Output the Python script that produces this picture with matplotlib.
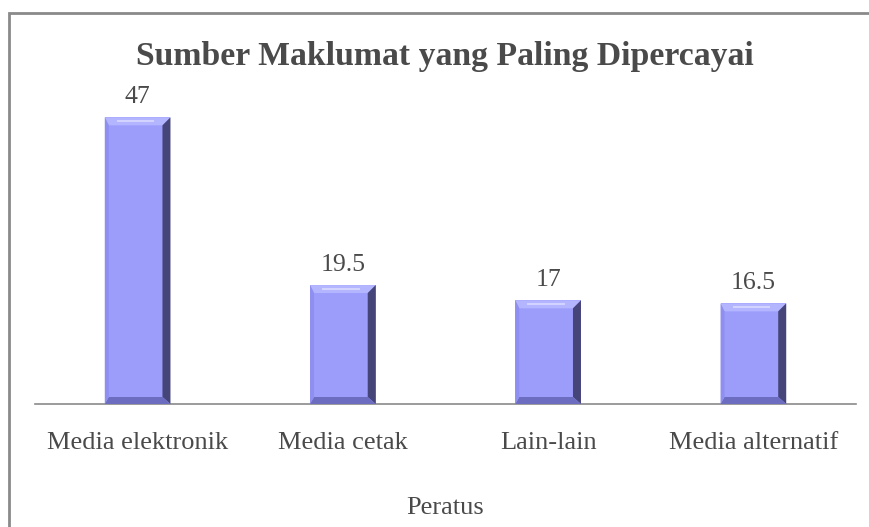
import matplotlib
matplotlib.use("Agg")
import matplotlib.pyplot as plt
from matplotlib.patches import Polygon, Rectangle

categories = ["Media elektronik", "Media cetak", "Lain-lain", "Media alternatif"]
values = [47, 19.5, 17, 16.5]
value_labels = ["47", "19.5", "17", "16.5"]

TITLE = "Sumber Maklumat yang Paling Dipercayai"
XLABEL = "Peratus"

INK = "#4a4a4a"
FACE = "#9c9dfb"
TOP = "#b4b5ff"
HILITE = "#d2d3ff"
RIGHT = "#45457a"
BOTTOM = "#6c6dc0"
LEFT = "#8e8ff0"

plt.rcParams["font.family"] = ["Liberation Serif", "DejaVu Serif"]

W, H = 870, 527
fig = plt.figure(figsize=(W / 100, H / 100), dpi=100)
ax = fig.add_axes([35 / W, (H - 404) / H, (856 - 35) / W, (404 - 60) / H])

# outer chart frame
fig.patches.append(Rectangle((9 / W, -0.05), 1.1, 1 - 13 / H + 0.05,
                             transform=fig.transFigure, fill=False,
                             edgecolor="#8a8a8a", linewidth=2))

x = range(len(categories))
bar_w = 0.32
bars = ax.bar(x, values, width=bar_w, color=FACE, linewidth=0, zorder=2)
ax.set_xlim(-0.5, len(categories) - 0.5)
ax.set_ylim(0, 56.4)

# bevel: sizes in pixels converted to data units
px_x = (ax.get_xlim()[1] - ax.get_xlim()[0]) / (856 - 35)
px_y = (ax.get_ylim()[1] - ax.get_ylim()[0]) / (404 - 60)
for b in bars:
    x0, y0 = b.get_x(), b.get_y()
    x1, y1 = x0 + b.get_width(), y0 + b.get_height()
    t, r, bt, l = 8 * px_y, 8 * px_x, 7 * px_y, 4 * px_x
    ax.add_patch(Polygon([(x0, y1), (x1, y1), (x1 - r, y1 - t), (x0 + l, y1 - t)],
                         color=TOP, lw=0, zorder=3))
    ax.add_patch(Polygon([(x0 + 3 * l, y1 - 3 * px_y), (x1 - 2 * r, y1 - 3 * px_y),
                          (x1 - 2 * r, y1 - 5 * px_y), (x0 + 3 * l, y1 - 5 * px_y)],
                         color=HILITE, lw=0, zorder=3))
    ax.add_patch(Polygon([(x1, y1), (x1, y0), (x1 - r, y0 + bt), (x1 - r, y1 - t)],
                         color=RIGHT, lw=0, zorder=3))
    ax.add_patch(Polygon([(x0, y0), (x1, y0), (x1 - r, y0 + bt), (x0 + l, y0 + bt)],
                         color=BOTTOM, lw=0, zorder=3))
    ax.add_patch(Polygon([(x0, y0), (x0, y1), (x0 + l, y1 - t), (x0 + l, y0 + bt)],
                         color=LEFT, lw=0, zorder=3))

for b, lab in zip(bars, value_labels):
    ax.annotate(lab, (b.get_x() + b.get_width() / 2, b.get_height()),
                xytext=(0, 6.5), textcoords="offset points", ha="center",
                va="bottom", fontsize=18.5, color=INK)

for s in ["top", "right", "left"]:
    ax.spines[s].set_visible(False)
ax.spines["bottom"].set_color("#8a8a8a")
ax.spines["bottom"].set_linewidth(1.2)
ax.set_yticks([])
ax.set_xticks(list(x))
ax.set_xticklabels(categories, fontsize=19, color=INK)
ax.tick_params(axis="x", length=0, pad=20)
ax.set_xlabel(XLABEL, fontsize=19, color=INK, labelpad=31)

fig.text(445 / W, 1 - 65 / H, TITLE, ha="center", va="baseline",
         fontsize=24.3, fontweight="bold", color=INK)

fig.savefig("out.png", dpi=100, facecolor="white")
